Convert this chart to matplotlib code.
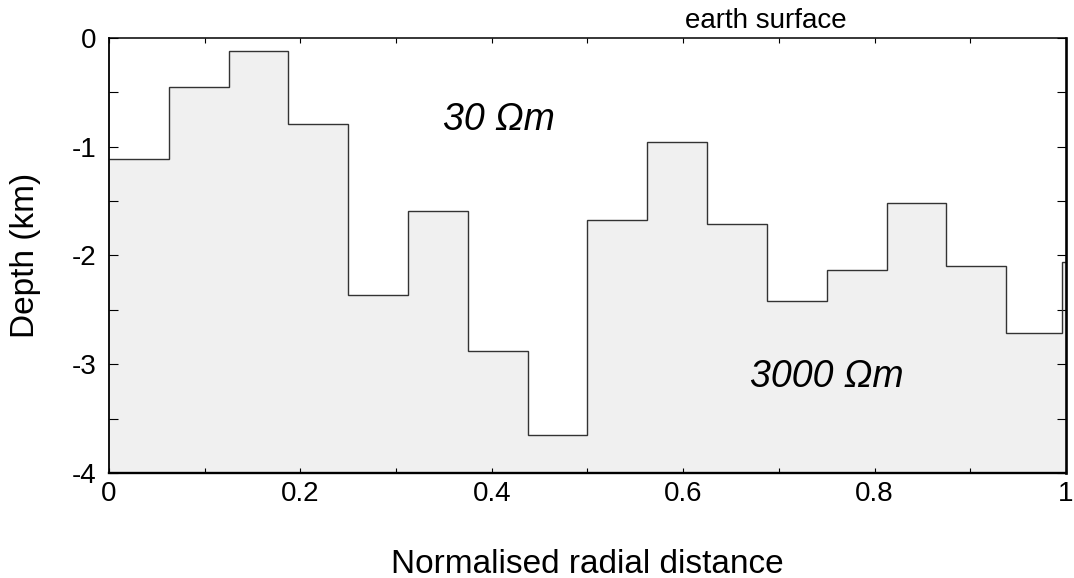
import numpy as np
import matplotlib
matplotlib.use('Agg')
import matplotlib.pyplot as plt
from matplotlib.ticker import MultipleLocator

plt.rcParams['font.family'] = ['Liberation Sans', 'DejaVu Sans']
plt.rcParams['axes.unicode_minus'] = False

# ── Data: interface depth, piecewise constant in radial distance ────────────
edges = [0.0, 0.0625, 0.125, 0.1875, 0.25, 0.3125, 0.375, 0.4375, 0.5,
         0.5625, 0.625, 0.6875, 0.75, 0.8125, 0.875, 0.9375, 0.9955, 1.0]
depth_km = [-1.11, -0.45, -0.12, -0.79, -2.36, -1.59, -2.88, -3.65,
            -1.67, -0.96, -1.71, -2.42, -2.13, -1.52, -2.10, -2.71, -2.06]

label_top = '30 Ωm'
label_bottom = '3000 Ωm'

FILL = '#f0f0f0'
LINE = '#333333'

fig = plt.figure(figsize=(10.74, 5.78), dpi=100)
ax = fig.add_axes([0.1015, 0.1817, 0.891, 0.7526])

ax.stairs(depth_km, edges, baseline=-4, fill=True, color=FILL, zorder=1)
ax.stairs(depth_km, edges, baseline=None, color=LINE, linewidth=1.0, zorder=2)

ax.set_xlim(0, 1)
ax.set_ylim(-4, 0)

ax.xaxis.set_major_locator(MultipleLocator(0.2))
ax.xaxis.set_minor_locator(MultipleLocator(0.1))
ax.yaxis.set_major_locator(MultipleLocator(1))
ax.yaxis.set_minor_locator(MultipleLocator(0.5))
ax.xaxis.set_major_formatter(plt.FuncFormatter(lambda v, p: f'{v:g}'))

ax.tick_params(axis='both', which='both', direction='in',
               top=True, right=True, labelsize=20, colors='black')
ax.tick_params(axis='x', which='both', length=3.3, width=0.8, pad=6)
ax.tick_params(axis='y', which='both', length=6.5, width=0.8, pad=9)

for side, lw in (('left', 1.3), ('top', 1.1), ('bottom', 1.7), ('right', 1.9)):
    ax.spines[side].set_linewidth(lw)

ax.set_xlabel('Normalised radial distance', fontsize=24, labelpad=30)
ax.set_ylabel('Depth (km)', fontsize=24, labelpad=22)

ax.text(0.349, -0.75, label_top, fontsize=27, style='italic',
        ha='left', va='center')
ax.text(0.670, -3.12, label_bottom, fontsize=27, style='italic',
        ha='left', va='center')
ax.text(0.6865, 1.008, 'earth surface', fontsize=20, ha='center',
        va='bottom', transform=ax.transAxes)

fig.savefig('out.png', dpi=100)
